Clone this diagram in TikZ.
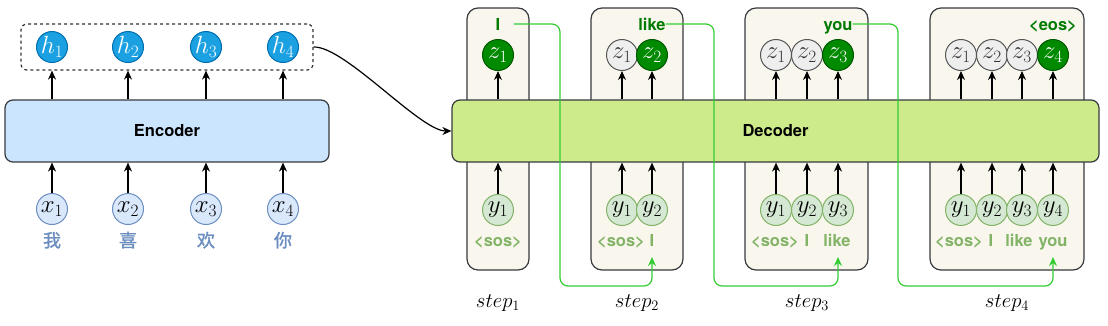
\documentclass[tikz,border=0pt]{standalone}
\usepackage{fontspec}
\setsansfont{TeX Gyre Heros}
\newfontfamily\cjk{Noto Sans CJK SC}[FakeBold=1.6]
\usetikzlibrary{arrows.meta}
\definecolor{stroke}{HTML}{36393D}
\definecolor{encfill}{HTML}{CCE5FF}
\definecolor{decfill}{HTML}{CDEB8B}
\definecolor{panelfill}{HTML}{F9F7ED}
\definecolor{hfill}{HTML}{1BA1E2}
\definecolor{hstroke}{HTML}{006EAF}
\definecolor{xfill}{HTML}{DAE8FC}
\definecolor{xstroke}{HTML}{6C8EBF}
\definecolor{zgfill}{HTML}{008A00}
\definecolor{zgstroke}{HTML}{005700}
\definecolor{zfill}{HTML}{EEEEEE}
\definecolor{zstroke}{HTML}{555555}
\definecolor{yfill}{HTML}{D5E8D4}
\definecolor{ystroke}{HTML}{82B366}
\definecolor{toplab}{HTML}{007A00}
\definecolor{botlab}{HTML}{82B366}
\definecolor{gline}{HTML}{33CC33}
\tikzset{
  circ/.style={circle,minimum size=31pt,inner sep=0pt,line width=1pt,font=\fontsize{23}{23}\selectfont},
  hc/.style={circ,draw=hstroke,fill=hfill,text=white},
  xc/.style={circ,draw=xstroke,fill=xfill},
  zc/.style={circ,draw=zstroke,fill=zfill,text=black!80},
  zgc/.style={circ,draw=zgstroke,fill=zgfill,text=white},
  yc/.style={circ,draw=ystroke,fill=yfill},
  bigbox/.style={draw=stroke,line width=1.2pt,rounded corners=8pt,inner sep=0pt,
    font=\sffamily\bfseries\fontsize{16.5}{16.5}\selectfont},
  panel/.style={draw=stroke,fill=panelfill,line width=1.2pt,rounded corners=11pt,
    minimum height=262pt,inner sep=0pt},
  tlab/.style={text=toplab,inner sep=0pt,anchor=base,font=\sffamily\bfseries\fontsize{16.5}{16.5}\selectfont},
  blab/.style={text=botlab,inner sep=0pt,anchor=base,font=\sffamily\bfseries\fontsize{16.5}{16.5}\selectfont},
  cjklab/.style={text=xstroke,inner sep=0pt,anchor=base,font=\cjk\fontsize{18}{18}\selectfont},
  steplab/.style={inner sep=0pt,font=\fontsize{21}{21}\selectfont},
  arr/.style={-{Stealth[length=9pt,width=8pt]},line width=1.2pt,black},
  garr/.style={-{Stealth[length=9pt,width=8pt]},line width=1.2pt,gline,rounded corners=8pt},
}
\begin{document}
\begin{tikzpicture}[x=1pt,y=-1pt]
\useasboundingbox (0,0) rectangle (1108,325);

% ---------- Encoder side ----------
\node[draw=black!80,dashed,line width=1.2pt,rounded corners=6pt,minimum width=292pt,minimum height=46pt,inner sep=0pt] (hbox) at (167,47) {};
\node[bigbox,fill=encfill,minimum width=324pt,minimum height=62pt] (enc) at (167,131) {Encoder};
\foreach \i/\x/\c in {1/52/我,2/128/喜,3/206/欢,4/283/你}{
  \node[hc] (h\i) at (\x,47) {$h_{\i}$};
  \node[xc] (x\i) at (\x,209) {$x_{\i}$};
  \node[cjklab] (c\i) at (\x,247) {\c};
  \draw[arr] (enc.north -| h\i) -- (hbox.south -| h\i);
  \draw[arr] (x\i.north) -- (enc.south -| x\i);
}

% ---------- Decoder panels ----------
\node[panel,minimum width=62pt] (p1) at (498,139) {};
\node[panel,minimum width=92pt] (p2) at (637,139) {};
\node[panel,minimum width=123pt] (p3) at (806.5,139) {};
\node[panel,minimum width=154pt] (p4) at (1007,139) {};

\node[bigbox,fill=decfill,minimum width=647pt,minimum height=62pt] (dec) at (775.5,131) {Decoder};

% connector encoder -> decoder
\draw[arr] (hbox.east) .. controls (345,46) and (420,131) .. (dec.west);

% step 1
\node[zgc] (s1z1) at (498,55) {$z_{1}$};
\node[yc] (s1y1) at (498,210) {$y_{1}$};
\node[tlab] (t1) at (498,30) {I};
\node[blab] (b1a) at (498,246) {<sos>};
% step 2
\node[zc] (s2z1) at (622,55) {$z_{1}$};
\node[zgc] (s2z2) at (652,55) {$z_{2}$};
\node[yc] (s2y1) at (622,210) {$y_{1}$};
\node[yc] (s2y2) at (652,210) {$y_{2}$};
\node[tlab] (t2) at (652,30) {like};
\node[blab] (b2a) at (621,246) {<sos>};
\node[blab] (b2b) at (652,246) {I};
% step 3
\node[zc] (s3z1) at (776,55) {$z_{1}$};
\node[zc] (s3z2) at (807,55) {$z_{2}$};
\node[zgc] (s3z3) at (838,55) {$z_{3}$};
\node[yc] (s3y1) at (776,210) {$y_{1}$};
\node[yc] (s3y2) at (807,210) {$y_{2}$};
\node[yc] (s3y3) at (838,210) {$y_{3}$};
\node[tlab] (t3) at (838,30) {you};
\node[blab] (b3a) at (775,246) {<sos>};
\node[blab] (b3b) at (807,246) {I};
\node[blab] (b3c) at (837,246) {like};
% step 4
\node[zc] (s4z1) at (961,55) {$z_{1}$};
\node[zc] (s4z2) at (992,55) {$z_{2}$};
\node[zc] (s4z3) at (1022,55) {$z_{3}$};
\node[zgc] (s4z4) at (1053,55) {$z_{4}$};
\node[yc] (s4y1) at (961,210) {$y_{1}$};
\node[yc] (s4y2) at (992,210) {$y_{2}$};
\node[yc] (s4y3) at (1022,210) {$y_{3}$};
\node[yc] (s4y4) at (1053,210) {$y_{4}$};
\node[tlab] (t4) at (1053,30) {<eos>};
\node[blab] (b4a) at (959,246) {<sos>};
\node[blab] (b4b) at (991,246) {I};
\node[blab] (b4c) at (1019,246) {like};
\node[blab] (b4d) at (1053,246) {you};

% arrows decoder
\foreach \s/\n in {1/1,2/2,3/3,4/4}{
  \foreach \k in {1,...,\n}{
    \draw[arr] (dec.north -| s\s z\k) -- (s\s z\k.south);
    \draw[arr] (s\s y\k.north) -- (dec.south -| s\s y\k);
  }
}

% step labels
\node[steplab] (st1) at (498,303) {$step_1$};
\node[steplab] (st2) at (637,303) {$step_2$};
\node[steplab] (st3) at (807,303) {$step_3$};
\node[steplab] (st4) at (1007,303) {$step_4$};

% green feedback lines
\coordinate (g1s) at (514,24);
\coordinate (g1e) at (652,257);
\coordinate (g2e) at (838,257);
\coordinate (g3e) at (1053,257);
\draw[garr] (g1s) -- (560,24) -- (560,286) -- (652,286) -- (g1e);
\draw[garr] (t2.east |- g1s) -- (714,24) -- (714,286) -- (838,286) -- (g2e);
\draw[garr] (t3.east |- g1s) -- (898,24) -- (898,286) -- (1053,286) -- (g3e);
\end{tikzpicture}
\end{document}
